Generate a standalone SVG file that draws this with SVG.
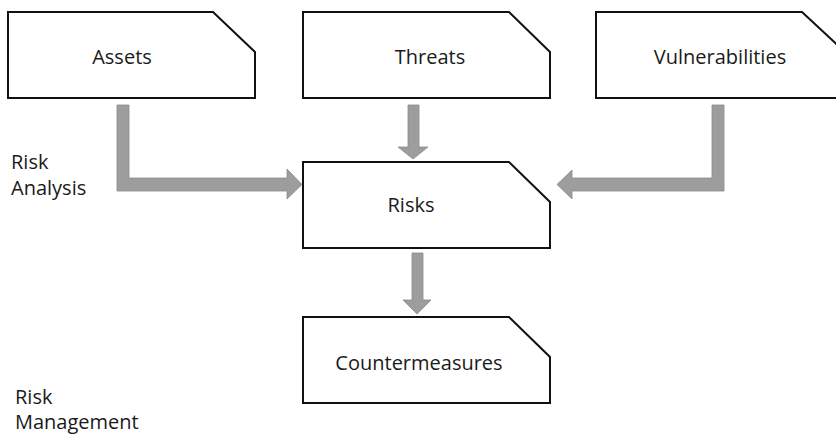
<svg xmlns="http://www.w3.org/2000/svg" width="836" height="435" viewBox="0 0 836 435">
<style>
.box{fill:#fff;stroke:#111;stroke-width:2;stroke-linejoin:miter}
.lbl{font-family:"Open Sans","Liberation Sans",sans-serif;font-size:20px;fill:#1a1a1a;text-anchor:middle}
.side{font-family:"Open Sans","Liberation Sans",sans-serif;font-size:20px;fill:#1a1a1a}
.arr{fill:#9d9d9d;stroke:#8c8c8c;stroke-width:0.8}
</style>
<rect width="836" height="435" fill="#fff"/>
<g id="assets">
<path class="box" d="M8,12 H213 L255,52 V98 H8 Z"/>
<text class="lbl" x="122" y="64">Assets</text>
</g>
<g id="threats">
<path class="box" d="M303,12 H509 L550,52 V98 H303 Z"/>
<text class="lbl" x="430" y="64">Threats</text>
</g>
<g id="vulnerabilities">
<path class="box" d="M596,12 H802 L843,50 V98 H596 Z"/>
<text class="lbl" x="720" y="64">Vulnerabilities</text>
</g>
<g id="risks">
<path class="box" d="M303,162 H509 L550,202 V248 H303 Z"/>
<text class="lbl" x="411" y="212">Risks</text>
</g>
<g id="countermeasures">
<path class="box" d="M303,317 H509 L550,357 V403 H303 Z"/>
<text class="lbl" x="419" y="370">Countermeasures</text>
</g>
<g id="label-risk-analysis">
<text class="side" x="11" y="169">Risk</text>
<text class="side" x="11" y="195">Analysis</text>
</g>
<g id="label-risk-management">
<text class="side" x="15" y="404">Risk</text>
<text class="side" x="15" y="429">Management</text>
</g>
<g id="connectors">
<path class="arr" d="M117,105 H129 V178 H287 V169 L302,184.5 L287,199 V191 H117 Z"/>
<path class="arr" d="M408,105 H419 V147 H428 L413,159 L398,147 H408 Z"/>
<path class="arr" d="M724,105 H712 V178 H572 V170 L557,184.5 L572,199 V191 H724 Z"/>
<path class="arr" d="M412,253 H423 V300 H431 L417,314 L403,300 H412 Z"/>
</g>
</svg>
